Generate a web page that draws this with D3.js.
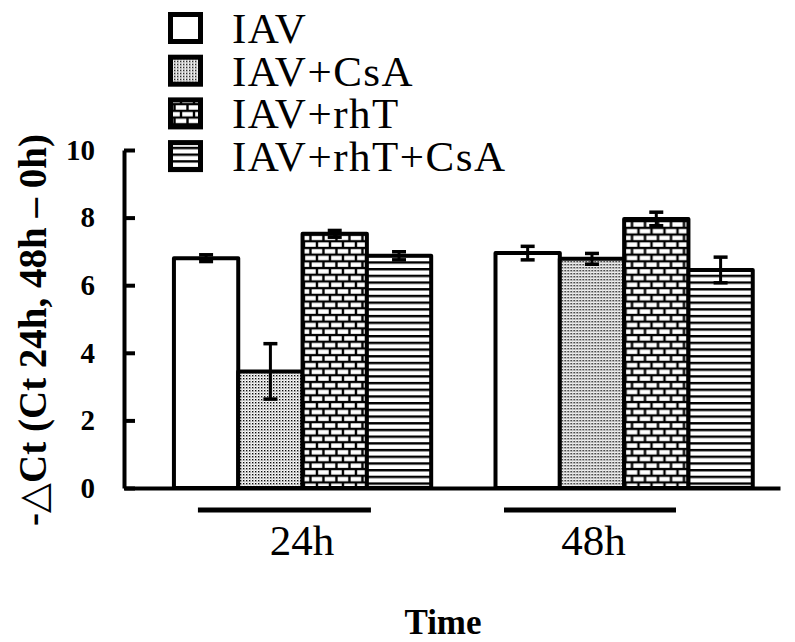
<!DOCTYPE html>
<html>
<head>
<meta charset="utf-8">
<script src="https://cdn.jsdelivr.net/npm/d3@7"></script>
<style>
  html, body { margin: 0; padding: 0; background: #fff; }
  svg { display: block; }
  svg text { font-family: "Liberation Serif", "DejaVu Serif", "Noto Serif", "Times New Roman", serif; fill: #000; }
</style>
</head>
<body>
<svg id="chart" width="795" height="642"></svg>
<script>
// ---- data ----
const groups = ["24h", "48h"];
const series = ["IAV", "IAV+CsA", "IAV+rhT", "IAV+rhT+CsA"];
const means24 = [6.80, 3.45, 7.52, 6.87];
const means48 = [6.95, 6.78, 7.96, 6.45];
const errors24 = [0.10, 0.82, 0.10, 0.12];
const errors48 = [0.20, 0.16, 0.20, 0.38];
const yTicks = [0, 2, 4, 6, 8, 10];
const yLabel = "-\u25B3Ct (Ct 24h, 48h \u2013 0h)";
const xLabel = "Time";

const SERIF = '"Liberation Serif", "DejaVu Serif", "Noto Serif", "Times New Roman", serif';

const rows = groups.map((g, gi) => ({
  group: g,
  values: series.map((s, si) => ({
    series: s, si,
    mean: gi === 0 ? means24[si] : means48[si],
    err: gi === 0 ? errors24[si] : errors48[si]
  }))
}));

const svg = d3.select("#chart");

// ---- patterns ----
const defs = svg.append("defs");
const pDots = defs.append("pattern").attr("id", "p1").attr("patternUnits", "userSpaceOnUse")
  .attr("width", 3).attr("height", 3);
pDots.append("rect").attr("width", 3).attr("height", 3).attr("fill", "#fff");
pDots.append("rect").attr("x", 0).attr("y", 0).attr("width", 1.4).attr("height", 1.4).attr("fill", "#000");
pDots.append("rect").attr("x", 1.5).attr("y", 1.5).attr("width", 0.9).attr("height", 0.9).attr("fill", "#555");
const pBrick = defs.append("pattern").attr("id", "p2").attr("patternUnits", "userSpaceOnUse")
  .attr("width", 13).attr("height", 13.4);
pBrick.append("rect").attr("width", 13).attr("height", 13.4).attr("fill", "#000");
pBrick.append("rect").attr("x", 1.2).attr("y", 1.2).attr("width", 10.6).attr("height", 4.4).attr("fill", "#fff");
pBrick.append("rect").attr("x", -5.3).attr("y", 7.9).attr("width", 10.6).attr("height", 4.4).attr("fill", "#fff");
pBrick.append("rect").attr("x", 7.7).attr("y", 7.9).attr("width", 10.6).attr("height", 4.4).attr("fill", "#fff");
const pLines = defs.append("pattern").attr("id", "p3").attr("patternUnits", "userSpaceOnUse")
  .attr("width", 10).attr("height", 6.7);
pLines.append("rect").attr("width", 10).attr("height", 6.7).attr("fill", "#fff");
pLines.append("rect").attr("y", 0).attr("width", 10).attr("height", 2.4).attr("fill", "#000");

const fills = ["#fff", "url(#p1)", "url(#p2)", "url(#p3)"];

// ---- scales ----
const x0 = d3.scaleBand().domain(groups).range([124, 780])
  .paddingInner(0.2).paddingOuter(0.12).align(0.647);
const x1 = d3.scaleBand().domain(series).range([0, x0.bandwidth()]).padding(0);
const y = d3.scaleLinear().domain([0, 10]).range([488, 150]);

// ---- bars ----
const grp = svg.append("g").selectAll("g.grp").data(rows).join("g")
  .attr("class", "grp")
  .attr("transform", d => `translate(${x0(d.group)},0)`);

grp.selectAll("rect").data(d => d.values).join("rect")
  .attr("x", d => x1(d.series))
  .attr("y", d => y(d.mean))
  .attr("width", x1.bandwidth())
  .attr("height", d => y(0) - y(d.mean))
  .attr("fill", d => fills[d.si])
  .attr("stroke", "#000")
  .attr("stroke-width", 4)
  .attr("stroke-linejoin", "round");

const eb = grp.selectAll("g.eb").data(d => d.values).join("g").attr("class", "eb");
eb.append("line")
  .attr("x1", d => x1(d.series) + x1.bandwidth() / 2)
  .attr("x2", d => x1(d.series) + x1.bandwidth() / 2)
  .attr("y1", d => y(d.mean + d.err))
  .attr("y2", d => y(d.mean - d.err))
  .attr("stroke", "#000").attr("stroke-width", 3);
eb.selectAll("line.cap").data(d => [{d, v: d.mean + d.err}, {d, v: d.mean - d.err}]).join("line")
  .attr("class", "cap")
  .attr("x1", o => x1(o.d.series) + x1.bandwidth() / 2 - 7)
  .attr("x2", o => x1(o.d.series) + x1.bandwidth() / 2 + 7)
  .attr("y1", o => y(o.v))
  .attr("y2", o => y(o.v))
  .attr("stroke", "#000").attr("stroke-width", 3.5);

// ---- axes ----
const yAxis = d3.axisLeft(y).tickValues(yTicks).tickSizeInner(-11).tickSizeOuter(0).tickPadding(29)
  .tickFormat(d3.format("d"));
const ya = svg.append("g").attr("transform", "translate(124,0)").call(yAxis)
  .attr("font-family", SERIF);
ya.select(".domain").attr("stroke", "#000").attr("stroke-width", 4);
ya.selectAll(".tick line").attr("stroke", "#000").attr("stroke-width", 4);
ya.selectAll(".tick text")
  .style("font-family", SERIF)
  .style("font-size", "29px").style("font-weight", "bold").attr("fill", "#000");

const xAxis = d3.axisBottom(x0).tickValues([]).tickSizeOuter(0);
const xa = svg.append("g").attr("transform", "translate(0,488)").call(xAxis);
xa.select(".domain").attr("stroke", "#000").attr("stroke-width", 4);

// group underlines and labels
const lineOff = { "24h": [24, 197], "48h": [8.5, 180.5] };
const labelOff = { "24h": 128, "48h": 98 };
groups.forEach(gname => {
  const b = x0(gname);
  svg.append("line")
    .attr("x1", b + lineOff[gname][0]).attr("x2", b + lineOff[gname][1])
    .attr("y1", 510).attr("y2", 510)
    .attr("stroke", "#000").attr("stroke-width", 5);
  svg.append("text")
    .attr("x", b + labelOff[gname]).attr("y", 555)
    .attr("text-anchor", "middle")
    .style("font-family", SERIF)
    .style("font-size", "43px")
    .text(gname);
});

svg.append("text")
  .attr("x", 443).attr("y", 634)
  .attr("text-anchor", "middle")
  .style("font-family", SERIF)
  .style("font-size", "35px").style("font-weight", "bold")
  .text(xLabel);

svg.append("text")
  .attr("transform", "translate(46,330) rotate(-90)")
  .attr("text-anchor", "middle")
  .style("font-family", SERIF)
  .style("font-size", "39px").style("font-weight", "bold")
  .text(yLabel);

// ---- legend ----
const legRows = svg.append("g").selectAll("g").data(series).join("g")
  .attr("transform", (d, i) => `translate(168,${12 + i * 42.7})`);
legRows.append("rect")
  .attr("x", 2.5).attr("y", 2.5).attr("width", 30).attr("height", 27)
  .attr("fill", (d, i) => fills[i])
  .attr("stroke", "#000").attr("stroke-width", 5);
legRows.append("text")
  .attr("x", 64).attr("y", 31)
  .style("font-family", SERIF)
  .style("font-size", "43px").style("letter-spacing", "1.5px")
  .text(d => d);
</script>
</body>
</html>
